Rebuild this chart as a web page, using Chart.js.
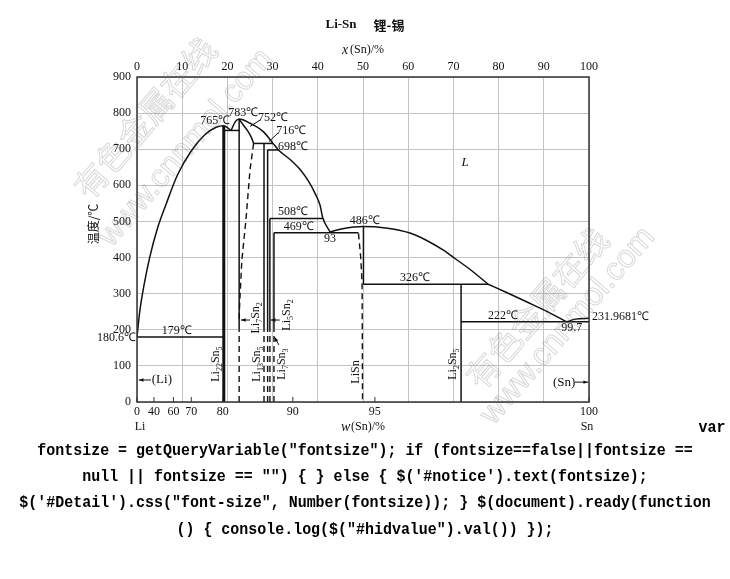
<!DOCTYPE html>
<html>
<head>
<meta charset="utf-8">
<script src="https://cdn.jsdelivr.net/npm/chart.js@4.4.1/dist/chart.umd.min.js"></script>
<style>
  body { margin: 0; background: #fff; width: 730px; height: 579px; overflow: hidden; position: relative; }
  #wrap { position: absolute; left: 0; top: 0; width: 730px; height: 440px; }
  .code { position: absolute; left: -300px; width: 1330px; text-align: center; white-space: pre;
          font: bold 17px "Liberation Mono", monospace; line-height: 20px; color: #000;
          transform: scaleX(0.88); }
</style>
</head>
<body>
<div id="wrap"><canvas id="chart" width="730" height="440"></canvas></div>
<div class="code" style="top:418px;left:47px;">var</div>
<div class="code" style="top:441px;">fontsize = getQueryVariable("fontsize"); if (fontsize==false||fontsize ==</div>
<div class="code" style="top:467px;">null || fontsize == "") { } else { $('#notice').text(fontsize);</div>
<div class="code" style="top:493px;">$('#Detail').css("font-size", Number(fontsize)); } $(document).ready(function</div>
<div class="code" style="top:520px;">() { console.log($("#hidvalue").val()) });</div>
<script>
// axes: x = x(Sn) atomic %, y = temperature
const topTicks = [0, 10, 20, 30, 40, 50, 60, 70, 80, 90, 100];
const bottomTickW = [0, 40, 60, 70, 80, 90, 95, 100];   // w(Sn)/% tick labels
const tempTicks = [0, 100, 200, 300, 400, 500, 600, 700, 800, 900];

// liquidus curves [x(Sn) at.%, T]
const liquidusLi = [[0, 180.6], [0.6, 250], [1.5, 320], [2.8, 400], [4.5, 480], [6.5, 550], [9, 630], [12, 695], [15, 740], [17.5, 761], [19.2, 765], [20.8, 752]];
const liquidus783 = [[20.8, 752], [21.8, 777], [22.6, 784], [25, 772], [28, 748], [30.1, 716], [31.3, 698], [34, 670], [36, 645], [38, 610], [39.5, 575], [40.5, 545], [41.1, 510], [42.7, 471]];
const liquidus486 = [[42.7, 471], [45.5, 480], [48, 484.5], [50, 486], [55, 482], [60.4, 468], [64, 448], [67.7, 421], [70.5, 396], [73.7, 367], [77.7, 326]];
const liquidus326 = [[77.7, 326], [82, 302], [86.3, 277], [91, 249], [95.1, 222]];
const liquidusSn = [[95.1, 222], [97, 229.5], [100, 232]];
const li7sn2Solvus = [[22.6, 783], [23.5, 767], [24.6, 749], [25.4, 730], [25.8, 716]];

// invariant lines
const isotherms = [
  [[0, 180], [19.2, 180]],
  [[19.2, 752], [22.6, 752]],
  [[25.8, 716], [30.1, 716]],
  [[28.9, 698], [31.3, 698]],
  [[29.4, 508], [41.1, 508]],
  [[30.3, 469], [49, 469]],
  [[50.1, 326], [77.7, 326]],
  [[71.7, 222], [100, 222]]
];
// compounds: solid part and dashed part
const compoundSolid = [
  [[22.6, 200], [22.6, 783]],
  [[28.1, 200], [28.1, 716]],
  [[28.9, 200], [28.9, 698]],
  [[29.4, 200], [29.4, 508]],
  [[30.3, 200], [30.3, 469]],
  [[50.1, 326], [50.1, 486]],
  [[71.7, 0], [71.7, 326]]
];
const compoundDashed = [
  [[22.6, 0], [22.6, 200]],
  [[28.1, 0], [28.1, 200]],
  [[28.9, 0], [28.9, 200]],
  [[29.4, 0], [29.4, 200]],
  [[30.3, 0], [30.3, 200]],
  [[25.8, 716], [25.0, 643], [24.1, 504], [23.2, 393], [22.75, 283], [22.6, 230]],
  [[49, 467], [49.5, 400], [49.8, 330], [49.9, 0]]
];
const li22sn5 = [[19.2, 0], [19.2, 765]];

// annotations (data coordinates)
const tempLabels = [
  ['765℃', 17.3, 778], ['783℃', 23.5, 800], ['752℃', 30.1, 786], ['716℃', 34.1, 750],
  ['698℃', 34.5, 706], ['508℃', 34.5, 526], ['469℃', 35.8, 485], ['93', 42.7, 451],
  ['486℃', 50.4, 501], ['326℃', 61.5, 343], ['222℃', 81, 238], ['99.7', 96.2, 205],
  ['179℃', 8.8, 197]
];
const compoundLabels = [
  [['Li', '22', 'Sn', '5'], 17.5, 105],
  [['Li', '7', 'Sn', '2'], 26.3, 233],
  [['Li', '13', 'Sn', '5'], 26.5, 105],
  [['Li', '5', 'Sn', '2'], 33.2, 241],
  [['Li', '7', 'Sn', '3'], 32.1, 105],
  [['LiSn'], 48.5, 83],
  [['Li', '2', 'Sn', '5'], 69.9, 105]
];
const arrows = [[3.1, 61, 0.4, 61], [96.9, 55, 99.8, 55], [25.0, 227, 23.0, 227], [31.6, 227, 29.6, 227], [31.4, 158, 30.4, 180]];
const leaders = [[27.4, 782, 25.0, 763], [31.2, 745, 29.2, 721]];

const MLi = 6.94, MSn = 118.71;
function wToX(w) { const a = w / MSn, b = (100 - w) / MLi; return 100 * a / (a + b); }

const SERIF = '"Liberation Serif", "Times New Roman", serif';
const INK = '#111';

function line(pts, extra) {
  return Object.assign({
    data: pts.map(p => ({ x: p[0], y: p[1] })),
    showLine: true, borderColor: INK, borderWidth: 1.5, pointRadius: 0, fill: false, tension: 0
  }, extra);
}

const datasets = [];
[liquidusLi, liquidus783, liquidus486, liquidus326, liquidusSn, li7sn2Solvus].forEach(p =>
  datasets.push(line(p, { cubicInterpolationMode: 'monotone' })));
isotherms.forEach(p => datasets.push(line(p)));
compoundSolid.forEach(p => datasets.push(line(p)));
compoundDashed.forEach(p => datasets.push(line(p, { borderDash: [6, 4], borderWidth: 1.4 })));
datasets.push(line(li22sn5, { borderWidth: 3 }));

function drawChem(ctx, parts, cx, cy) {
  const big = '12px ' + SERIF, small = '8px ' + SERIF;
  let w = 0;
  parts.forEach((p, i) => { ctx.font = i % 2 ? small : big; w += ctx.measureText(p).width; });
  ctx.save();
  ctx.translate(cx, cy);
  ctx.rotate(-Math.PI / 2);
  let x = -w / 2;
  ctx.textAlign = 'left';
  ctx.textBaseline = 'middle';
  parts.forEach((p, i) => {
    ctx.font = i % 2 ? small : big;
    ctx.fillText(p, x, i % 2 ? 4 : 0);
    x += ctx.measureText(p).width;
  });
  ctx.restore();
}

function arrowTo(ctx, x1, y1, x2, y2) {
  ctx.beginPath(); ctx.moveTo(x1, y1); ctx.lineTo(x2, y2); ctx.stroke();
  const a = Math.atan2(y2 - y1, x2 - x1);
  ctx.beginPath();
  ctx.moveTo(x2, y2);
  ctx.lineTo(x2 - 5 * Math.cos(a - 0.35), y2 - 5 * Math.sin(a - 0.35));
  ctx.lineTo(x2 - 5 * Math.cos(a + 0.35), y2 - 5 * Math.sin(a + 0.35));
  ctx.closePath(); ctx.fill();
}

const decor = {
  id: 'decor',
  beforeDraw(chart) {
    const ctx = chart.ctx;
    ctx.save();
    ctx.fillStyle = '#fff';
    ctx.fillRect(0, 0, chart.width, chart.height);
    ctx.restore();
  },
  afterDraw(chart) {
    const ctx = chart.ctx, a = chart.chartArea;
    const sx = chart.scales.x, sy = chart.scales.y;
    const X = v => sx.getPixelForValue(v), Y = v => sy.getPixelForValue(v);
    ctx.save();
    // frame
    ctx.strokeStyle = '#333'; ctx.lineWidth = 1.5;
    ctx.strokeRect(a.left, a.top, a.right - a.left, a.bottom - a.top);
    // inner ticks for w(Sn)
    ctx.lineWidth = 1;
    bottomTickW.forEach(w => {
      const px = X(wToX(w));
      ctx.beginPath(); ctx.moveTo(px, a.bottom); ctx.lineTo(px, a.bottom - 5); ctx.stroke();
    });
    ctx.fillStyle = INK; ctx.strokeStyle = INK;
    ctx.textBaseline = 'middle';
    ctx.font = '12px ' + SERIF;
    ctx.textAlign = 'center';
    tempLabels.forEach(([t, x, y]) => ctx.fillText(t, X(x), Y(y)));
    ctx.textAlign = 'right';
    ctx.fillText('180.6℃', X(0) - 1, Y(177));
    ctx.textAlign = 'left';
    ctx.fillText('231.9681℃', X(100) + 3, Y(235));
    ctx.textAlign = 'center';
    ctx.font = '13px ' + SERIF;
    ctx.fillText('(Li)', X(5.5), Y(61));
    ctx.fillText('(Sn)', X(94.5), Y(55));
    ctx.font = 'italic 13px ' + SERIF;
    ctx.fillText('L', X(72.6), Y(662));
    compoundLabels.forEach(([f, x, y]) => drawChem(ctx, f, X(x), Y(y)));
    ctx.lineWidth = 1;
    arrows.forEach(([x1, y1, x2, y2]) => arrowTo(ctx, X(x1), Y(y1), X(x2), Y(y2)));
    leaders.forEach(([x1, y1, x2, y2]) => {
      ctx.beginPath(); ctx.moveTo(X(x1), Y(y1)); ctx.lineTo(X(x2), Y(y2)); ctx.stroke();
    });
    // titles
    ctx.font = 'bold 13px ' + SERIF;
    ctx.fillText('Li-Sn', 341, 25);
    ctx.font = 'bold 13px "Noto Sans CJK SC", sans-serif';
    ctx.fillText('锂-锡', 389, 25);
    ctx.textAlign = 'left';
    ctx.font = 'italic 14px ' + SERIF;
    ctx.fillText('x', 342, 50);
    ctx.font = '12px ' + SERIF;
    ctx.fillText('(Sn)/%', 350, 50);
    ctx.font = 'italic 14px ' + SERIF;
    ctx.fillText('w', 341, 427);
    ctx.font = '12px ' + SERIF;
    ctx.fillText('(Sn)/%', 351, 427);
    ctx.textAlign = 'center';
    ctx.fillText('Li', 140, 427);
    ctx.fillText('Sn', 587, 427);
    ctx.save();
    ctx.translate(93, 224);
    ctx.rotate(-Math.PI / 2);
    ctx.font = '12px "Noto Sans CJK SC", sans-serif';
    ctx.fillText('温度/℃', 0, 0);
    ctx.restore();
    // watermark
    ctx.strokeStyle = 'rgba(110,110,110,0.28)';
    ctx.lineWidth = 1;
    const marks = [
      ['有色金属在线', 145, 118, 33, '"Noto Sans CJK SC", sans-serif'],
      ['www.cnnmol.com', 186, 148, 32, '"Liberation Sans", sans-serif'],
      ['有色金属在线', 537, 308, 33, '"Noto Sans CJK SC", sans-serif'],
      ['www.cnnmol.com', 568, 326, 32, '"Liberation Sans", sans-serif']
    ];
    marks.forEach(([t, x, y, s, f]) => {
      ctx.save();
      ctx.translate(x, y);
      ctx.rotate(-0.86);
      ctx.font = s + 'px ' + f;
      ctx.strokeText(t, 0, 0);
      ctx.restore();
    });
    ctx.restore();
  }
};

new Chart(document.getElementById('chart'), {
  type: 'scatter',
  data: { datasets },
  options: {
    responsive: false,
    animation: false,
    layout: { padding: { left: 97, right: 141, top: 57, bottom: 0 } },
    plugins: { legend: { display: false }, tooltip: { enabled: false } },
    scales: {
      x: {
        type: 'linear', position: 'bottom', min: 0, max: 100,
        afterBuildTicks: s => { s.ticks = bottomTickW.map(w => ({ value: wToX(w) })); },
        afterFit: s => { s.height = 38; },
        ticks: { autoSkip: false, maxRotation: 0, padding: 3, color: INK, font: { family: SERIF, size: 12 },
                 callback: (v, i) => bottomTickW[i] },
        grid: { display: false, drawTicks: false },
        border: { display: false }
      },
      x2: {
        type: 'linear', position: 'top', min: 0, max: 100,
        afterBuildTicks: s => { s.ticks = topTicks.map(v => ({ value: v })); },
        afterFit: s => { s.height = 20; },
        ticks: { autoSkip: false, maxRotation: 0, padding: 3, color: INK, font: { family: SERIF, size: 12 } },
        grid: { color: '#c4c4c4', lineWidth: 1, drawTicks: false },
        border: { display: false }
      },
      y: {
        type: 'linear', min: 0, max: 900,
        afterBuildTicks: s => { s.ticks = tempTicks.map(v => ({ value: v })); },
        afterFit: s => { s.width = 40; },
        ticks: { padding: 6, color: INK, font: { family: SERIF, size: 12 } },
        grid: { color: '#c4c4c4', lineWidth: 1, drawTicks: false },
        border: { display: false }
      }
    }
  },
  plugins: [decor]
});
</script>
</body>
</html>
